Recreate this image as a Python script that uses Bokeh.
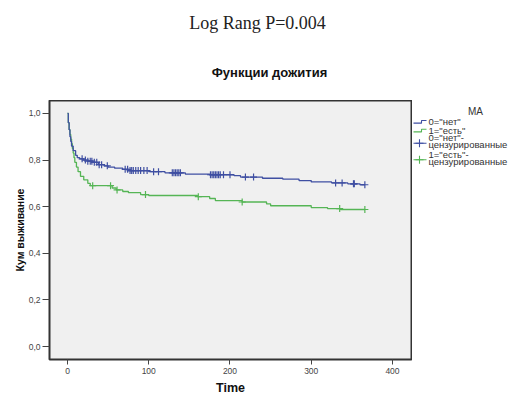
import numpy as np
from bokeh.plotting import figure
from bokeh.models import Range1d, FixedTicker
from bokeh.layouts import column, row
from bokeh.core.properties import value
from bokeh.embed import file_html
from bokeh.resources import INLINE

# ---- data ----
blue_t = [0, 1, 2, 3, 4, 5, 7, 10, 12, 15, 20, 25, 31, 38, 45, 50, 58, 68, 75, 100, 120,
          145, 175, 205, 213, 240, 265, 285, 300, 325, 345, 360]
blue_s = [1.0, 0.96, 0.93, 0.90, 0.88, 0.86, 0.84, 0.82, 0.81, 0.805, 0.80, 0.795, 0.79, 0.78,
          0.775, 0.77, 0.765, 0.76, 0.755, 0.75, 0.745, 0.74, 0.737, 0.733, 0.727, 0.722,
          0.718, 0.712, 0.706, 0.702, 0.698, 0.694]
blue_end = 366
blue_cens = [18, 22, 25, 28, 30, 33, 36, 39, 42, 49, 71, 74, 77, 79, 81, 84, 87, 90, 94, 98,
             106, 112, 129, 131, 133, 135, 137, 139, 176, 178, 180, 182, 184, 186, 188, 192,
             200, 219, 229, 330, 338, 352, 353, 366]

green_t = [0, 1, 2, 3, 4, 5, 6, 7, 8, 9, 11, 13, 16, 20, 25, 28, 55, 60, 68, 75, 90, 100,
           160, 175, 182, 215, 245, 250, 300, 320, 336]
green_s = [1.0, 0.96, 0.93, 0.91, 0.89, 0.87, 0.85, 0.83, 0.81, 0.79, 0.77, 0.75, 0.73, 0.715,
           0.70, 0.69, 0.68, 0.672, 0.665, 0.66, 0.652, 0.648, 0.643, 0.635, 0.626, 0.62,
           0.612, 0.604, 0.596, 0.592, 0.588]
green_end = 366
green_cens = [31, 53, 61, 96, 161, 215, 335, 366]

x_ticks = [0, 100, 200, 300, 400]
y_ticks = [0.0, 0.2, 0.4, 0.6, 0.8, 1.0]
y_tick_labels = ["0,0", "0,2", "0,4", "0,6", "0,8", "1,0"]

test_title = "Log Rang P=0.004"
chart_title = "Функции дожития"
legend_title = "MA"
legend_labels = ['0="нет"', '1="есть"', '0="нет"-', 'цензурированные', '1="есть"-', 'цензурированные']

BLUE = "#3F4FA2"
GREEN = "#55B555"
FONT = "Liberation Sans"

W, H = 515, 397
TOP = 100          # height of the header strip
MAIN_W = 412       # main plot canvas width (frame ends at x=411)


def bare(fig):
    fig.axis.visible = False
    fig.grid.visible = False
    fig.outline_line_color = None
    fig.background_fill_color = "white"
    fig.border_fill_color = "white"
    return fig


# ---- header with the two titles ----
head = bare(figure(width=W, height=TOP, output_backend="svg", toolbar_location=None,
                   x_range=Range1d(0, W), y_range=Range1d(TOP, 0),
                   min_border=0))
head.text(x=[257], y=[22], text=[test_title], text_font=value("Liberation Serif"),
          text_font_size="18px", text_color="#222222", text_align="center",
          text_baseline="middle")
head.text(x=[269], y=[72], text=[chart_title], text_font=value(FONT),
          text_font_style="bold", text_font_size="13px", text_color="#111111",
          text_align="center", text_baseline="middle")

# ---- main plot ----
p = figure(width=MAIN_W, height=H - TOP, output_backend="svg", toolbar_location=None,
           x_range=Range1d(-22.15, 423.4), y_range=Range1d(-0.0553, 1.0553),
           min_border_left=49, min_border_right=1, min_border_top=0, min_border_bottom=36)
p.background_fill_color = "#F0F0F0"
p.border_fill_color = "white"
p.outline_line_color = "#333333"
p.outline_line_width = 2
p.grid.visible = False

p.xaxis.ticker = FixedTicker(ticks=x_ticks)
p.yaxis.ticker = FixedTicker(ticks=y_ticks)
p.yaxis.major_label_overrides = {t: l for t, l in zip(y_ticks, y_tick_labels)}
for ax in (p.xaxis, p.yaxis):
    ax.axis_line_color = None
    ax.minor_tick_line_color = None
    ax.major_tick_in = 0
    ax.major_tick_line_color = "#444444"
    ax.major_label_text_font = FONT
    ax.major_label_text_font_size = "8.5px"
    ax.major_label_text_color = "#444444"
    ax.axis_label_text_font = FONT
    ax.axis_label_text_font_style = "bold"
    ax.axis_label_text_color = "#111111"
p.yaxis.major_tick_out = 7
p.yaxis.major_label_standoff = 2
p.yaxis.axis_label = "Кум выживание"
p.yaxis.axis_label_text_font_size = "10.5px"
p.yaxis.axis_label_standoff = 0
p.xaxis.major_tick_out = 5
p.xaxis.major_label_standoff = 3
p.xaxis.axis_label = "Time"
p.xaxis.axis_label_text_font_size = "12.5px"
p.xaxis.axis_label_standoff = 4


def step_lookup(ts, ss, c):
    i = np.searchsorted(np.array(ts), np.array(c), side="right") - 1
    return list(np.array(ss)[i])


for ts, ss, end, cens, col in ((green_t, green_s, green_end, green_cens, GREEN),
                               (blue_t, blue_s, blue_end, blue_cens, BLUE)):
    xs = list(ts) + [end]
    ys = list(ss) + [ss[-1]]
    p.step(xs, ys, mode="after", line_color=col, line_width=1.3)
    p.scatter(cens, step_lookup(ts, ss, cens), marker="cross", size=7,
              line_color=col, line_width=1.2)

# ---- legend panel (pixel-like coordinates of the page) ----
leg = bare(figure(width=W - MAIN_W, height=H - TOP, output_backend="svg",
                  toolbar_location=None, x_range=Range1d(MAIN_W, W),
                  y_range=Range1d(H, TOP), min_border=0))
leg.text(x=[475], y=[113], text=[legend_title], text_font=value(FONT),
         text_font_size="10px", text_color="#333333", text_align="center",
         text_baseline="middle")
leg.text(x=[428] * len(legend_labels), y=[124, 134, 143, 151, 162, 170], text=legend_labels,
         text_font=value(FONT), text_font_size="9.5px", text_color="#333333",
         text_align="left", text_baseline="middle")
# step-shaped line icons
for col, base in ((BLUE, 126), (GREEN, 136)):
    leg.line([413, 421, 421, 426], [base, base, base - 3, base - 3], line_color=col,
             line_width=1.1)
# censored-mark icons
for col, base in ((BLUE, 149), (GREEN, 168)):
    leg.line([413, 426], [base, base], line_color=col, line_width=1.1)
    leg.scatter([419], [base], marker="cross", size=8, line_color=col, line_width=1.1)

layout = column(head, row(p, leg))
open("out.html", "w").write(file_html(layout, INLINE))
